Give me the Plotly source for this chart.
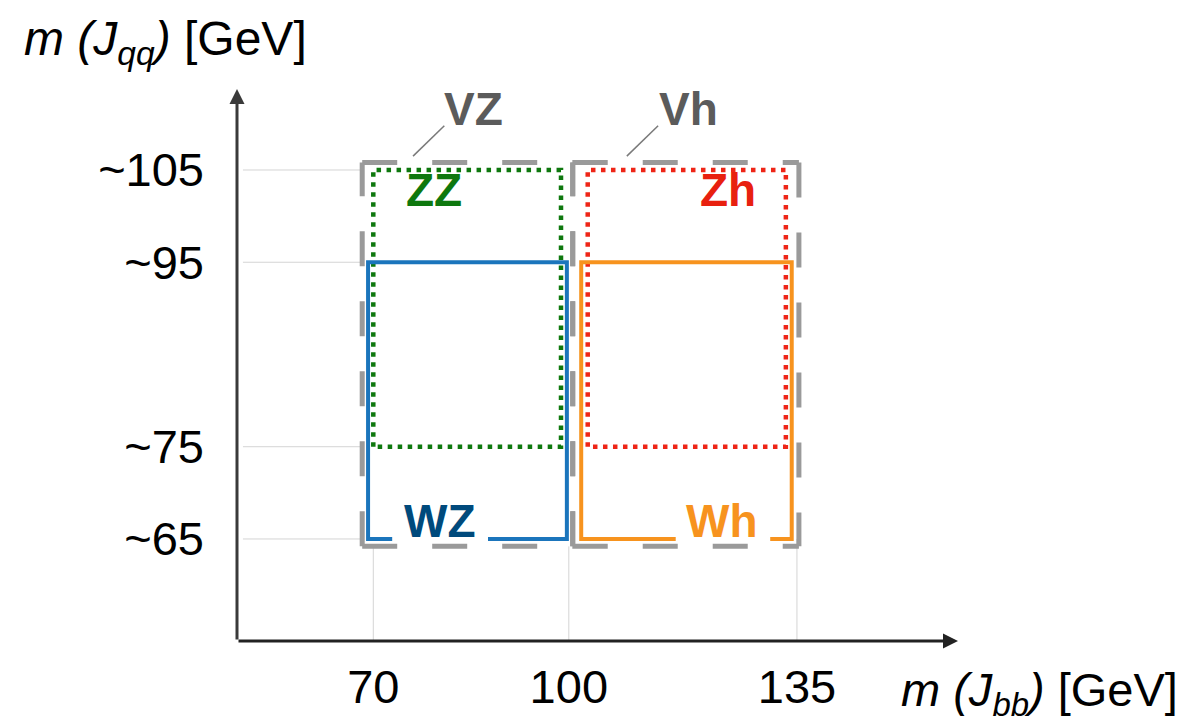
import plotly.graph_objects as go

# ---------------- data ----------------
x_tick_vals = [70, 100, 135]
x_tick_text = ["70", "100", "135"]
y_tick_vals = [65, 75, 95, 105]
y_tick_text = ["~65", "~75", "~95", "~105"]

# grouping boxes (grey dashed)
group_names = ["VZ", "Vh"]
group_x0 = [68.3, 100.6]
group_x1 = [100.6, 135.3]
group_y0 = [64.2, 64.2]
group_y1 = [105.8, 105.8]

# channel boxes
chan_names = ["ZZ", "WZ", "Zh", "Wh"]
chan_x0 = [70.0, 69.2, 102.9, 101.9]
chan_x1 = [98.8, 99.7, 133.3, 134.2]
chan_y0 = [75, 65, 75, 65]
chan_y1 = [105, 95, 105, 95]

# ---------------- styles ----------------
FONT = "Liberation Sans, Arial, Helvetica, sans-serif"
GRID = "#d4d4d4"
GREY = "#9a9a9a"
chan_line_color = ["#0e780e", "#1b75bc", "#ee2517", "#f7931e"]
chan_text_color = ["#0e780e", "#004a7c", "#e8200f", "#f7931e"]
chan_dash = ["4.5px,5.5px", "solid", "4.5px,5.5px", "solid"]
chan_width = [4.5, 4, 4.5, 4]
chan_label_pos = [(79.3, 102.8), (80.2, 67.0), (124.4, 102.8), (123.5, 67.0)]
# gaps in the bottom edge where the label sits
chan_gap = [None, (72.9, 87.6), None, (116.4, 130.9)]
group_label_pos = [(85.3, 111.6), (118.3, 111.6)]
group_leader = [((76.1, 106.5), (80.9, 109.8)), ((108.9, 106.5), (113.7, 109.8))]

X_RANGE = [49.09, 159.71]
Y_RANGE = [53.94, 113.78]

fig = go.Figure()

# light guide lines from axes to the boxes
for yv in y_tick_vals:
    fig.add_trace(go.Scatter(x=[50.0, group_x0[0]], y=[yv, yv], mode="lines",
                             line=dict(color=GRID, width=1), hoverinfo="skip", showlegend=False))
for i, xv in enumerate(x_tick_vals):
    top = chan_y0[3] if i == 2 else group_y0[0]
    fig.add_trace(go.Scatter(x=[xv, xv], y=[Y_RANGE[0], top], mode="lines",
                             line=dict(color=GRID, width=1), hoverinfo="skip", showlegend=False))

# grey dashed group boxes, each edge as its own subpath
for i in range(len(group_names)):
    x0, x1, y0, y1 = group_x0[i], group_x1[i], group_y0[i], group_y1[i]
    xs = [x0, x1, None, x0, x0, None, x0, x1, None, x1, x1]
    ys = [y1, y1, None, y0, y1, None, y0, y0, None, (y0 if i == 0 else y1), (y1 if i == 0 else y0)]
    fig.add_trace(go.Scatter(x=xs, y=ys, mode="lines", connectgaps=False,
                             line=dict(color=GREY, width=5, dash="35px,35px"),
                             hoverinfo="skip", showlegend=False))

# channel boxes
for i in range(len(chan_names)):
    x0, x1, y0, y1 = chan_x0[i], chan_x1[i], chan_y0[i], chan_y1[i]
    if chan_gap[i] is None:
        xs = [x0, x0, x1, x1, x0]
        ys = [y0, y1, y1, y0, y0]
    else:
        g0, g1 = chan_gap[i]
        xs = [g0, x0, x0, x1, x1, g1]
        ys = [y0, y0, y1, y1, y0, y0]
    fig.add_trace(go.Scatter(x=xs, y=ys, mode="lines",
                             line=dict(color=chan_line_color[i], width=chan_width[i], dash=chan_dash[i]),
                             hoverinfo="skip", showlegend=False))

# leader lines for group labels
for (a, b) in group_leader:
    fig.add_trace(go.Scatter(x=[a[0], b[0]], y=[a[1], b[1]], mode="lines",
                             line=dict(color="#7a7a7a", width=1.5),
                             hoverinfo="skip", showlegend=False))

annotations = []
for i, name in enumerate(chan_names):
    annotations.append(dict(x=chan_label_pos[i][0], y=chan_label_pos[i][1], xref="x", yref="y",
                            text=f"<b>{name}</b>", showarrow=False,
                            font=dict(family=FONT, size=46, color=chan_text_color[i])))
for i, name in enumerate(group_names):
    annotations.append(dict(x=group_label_pos[i][0], y=group_label_pos[i][1], xref="x", yref="y",
                            text=f"<b>{name}</b>", showarrow=False,
                            font=dict(family=FONT, size=46, color="#5b5b5b")))

# axis arrows
annotations.append(dict(x=0, y=1, xref="paper", yref="paper", ax=0, ay=552, axref="pixel", ayref="pixel",
                        text="", showarrow=True, arrowhead=2, arrowsize=1.0, arrowwidth=3,
                        arrowcolor="#3a3a3a", standoff=0))
annotations.append(dict(x=1, y=0, xref="paper", yref="paper", ax=-721, ay=0, axref="pixel", ayref="pixel",
                        text="", showarrow=True, arrowhead=2, arrowsize=1.0, arrowwidth=3,
                        arrowcolor="#222222", standoff=0))

# axis titles
annotations.append(dict(x=-0.298, y=1.085, xref="paper", yref="paper", xanchor="left", yanchor="middle",
                        text="<i>m (J<sub>qq</sub>)</i> [GeV]", showarrow=False,
                        font=dict(family=FONT, size=48, color="#000000")))
annotations.append(dict(x=1.308, y=-0.094, xref="paper", yref="paper", xanchor="right", yanchor="middle",
                        text="<i>m (J<sub>bb</sub>)</i> [GeV]", showarrow=False,
                        font=dict(family=FONT, size=47, color="#000000")))

fig.update_layout(
    width=1186, height=723,
    margin=dict(l=237, r=228, t=89, b=82, autoexpand=False),
    paper_bgcolor="white", plot_bgcolor="white",
    annotations=annotations,
    xaxis=dict(range=X_RANGE, showgrid=False, zeroline=False, showline=False, automargin=False,
               tickvals=x_tick_vals, ticktext=x_tick_text, ticks="",
               tickfont=dict(family=FONT, size=47, color="#000000"), ticklabelstandoff=14),
    yaxis=dict(range=Y_RANGE, showgrid=False, zeroline=False, showline=False, automargin=False,
               tickvals=y_tick_vals, ticktext=y_tick_text, ticks="",
               tickfont=dict(family=FONT, size=47, color="#000000"), ticklabelstandoff=32),
)

fig.write_html("out.html")
